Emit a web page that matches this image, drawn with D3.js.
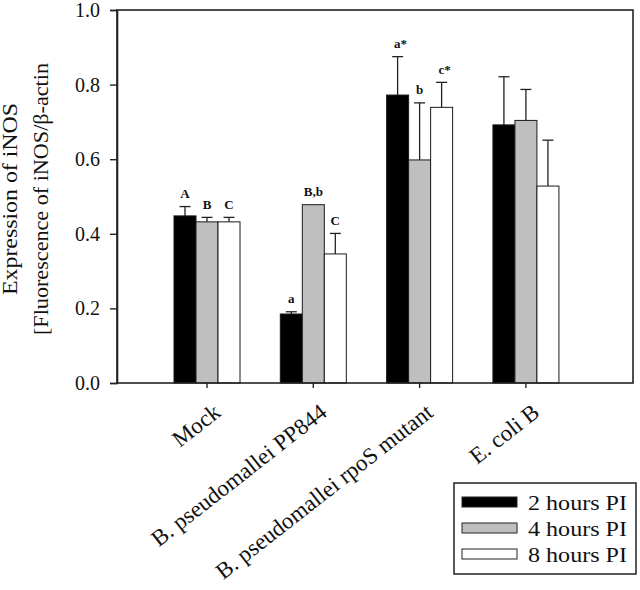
<!DOCTYPE html>
<html>
<head>
<meta charset="utf-8">
<script src="https://cdn.jsdelivr.net/npm/d3@7"></script>
<style>
  html, body { margin: 0; padding: 0; background: #fff; }
  svg { display: block; }
  svg text { font-family: "Liberation Serif", Tinos, "Times New Roman", Times, "Nimbus Roman", "Nimbus Roman No9 L", serif !important; fill: #111; }
</style>
</head>
<body>
<svg id="chart" width="640" height="590"></svg>
<script>
// ---- data ----
const categories = ["Mock", "B. pseudomallei PP844", "B. pseudomallei rpoS mutant", "E. coli B"];
const series = ["2 hours PI", "4 hours PI", "8 hours PI"];
const values2h = [0.448, 0.185, 0.772, 0.692];
const values4h = [0.432, 0.478, 0.598, 0.704];
const values8h = [0.432, 0.346, 0.739, 0.528];
const errTop2h = [0.473, 0.191, 0.875, 0.821];
const errTop4h = [0.444, 0.478, 0.751, 0.787];
const errTop8h = [0.444, 0.401, 0.806, 0.651];
const letters2h = ["A", "a", "a*", ""];
const letters4h = ["B", "B,b", "b", ""];
const letters8h = ["C", "C", "c*", ""];
const yTicks = [0.0, 0.2, 0.4, 0.6, 0.8, 1.0];
const yTitle = ["Expression of iNOS", "[Fluorescence of iNOS/\u03B2-actin"];

const seriesValues = [values2h, values4h, values8h];
const seriesErr = [errTop2h, errTop4h, errTop8h];
const seriesLetters = [letters2h, letters4h, letters8h];
const fills = ["#000000", "#bfbfbf", "#ffffff"];

// ---- layout ----
const pLeft = 117, pRight = 633, pTop = 10, pBottom = 383;
const svg = d3.select("#chart");

const y = d3.scaleLinear().domain([0, 1]).range([pBottom, pTop]);
const x0 = d3.scaleBand().domain(categories).range([pLeft, pRight])
  .paddingInner(0).paddingOuter(0.427).align(0.406);
const bw = x0.bandwidth();
const x1 = d3.scaleBand().domain(series).range([bw / 2 - 33, bw / 2 + 33]).padding(0);

const rows = [];
categories.forEach((c, ci) => {
  series.forEach((s, si) => {
    rows.push({ c, s, si, v: seriesValues[si][ci], e: seriesErr[si][ci], lab: seriesLetters[si][ci] });
  });
});

const g = svg.append("g");

// error bars
const eb = g.selectAll("g.err").data(rows.filter(d => d.e > d.v + 0.001)).enter().append("g");
eb.append("line")
  .attr("x1", d => x0(d.c) + x1(d.s) + x1.bandwidth() / 2)
  .attr("x2", d => x0(d.c) + x1(d.s) + x1.bandwidth() / 2)
  .attr("y1", d => y(d.v)).attr("y2", d => y(d.e))
  .attr("stroke", "#222").attr("stroke-width", 1.3);
eb.append("line")
  .attr("x1", d => x0(d.c) + x1(d.s) + x1.bandwidth() / 2 - 5.5)
  .attr("x2", d => x0(d.c) + x1(d.s) + x1.bandwidth() / 2 + 5.5)
  .attr("y1", d => y(d.e)).attr("y2", d => y(d.e))
  .attr("stroke", "#222").attr("stroke-width", 1.3);

g.selectAll("rect.bar").data(rows).enter().append("rect")
  .attr("x", d => x0(d.c) + x1(d.s))
  .attr("y", d => y(d.v))
  .attr("width", x1.bandwidth())
  .attr("height", d => y(0) - y(d.v))
  .attr("fill", d => fills[d.si])
  .attr("stroke", "#1a1a1a").attr("stroke-width", 1);

// significance letters
g.selectAll("text.lab").data(rows.filter(d => d.lab)).enter().append("text")
  .attr("x", d => x0(d.c) + x1(d.s) + x1.bandwidth() / 2 + (d.lab.endsWith("*") ? 3 : 0))
  .attr("y", d => y(Math.max(d.e, d.v)) - 8.5)
  .attr("text-anchor", "middle")
  .attr("font-size", 13).attr("font-weight", "bold")
  .text(d => d.lab);

// frame
svg.append("rect").attr("x", pLeft).attr("y", pTop)
  .attr("width", pRight - pLeft).attr("height", pBottom - pTop)
  .attr("fill", "none").attr("stroke", "#222").attr("stroke-width", 1.6);

// y axis
const yAxis = svg.append("g").attr("transform", `translate(${pLeft},0)`)
  .call(d3.axisLeft(y).tickValues(yTicks).tickFormat(d3.format(".1f")).tickSize(7).tickPadding(10));
yAxis.attr("font-family", null);
yAxis.select(".domain").attr("stroke", "#222").attr("stroke-width", 1.6);
yAxis.selectAll(".tick line").attr("stroke", "#222").attr("stroke-width", 1.4);
yAxis.selectAll(".tick text").attr("font-size", 20).attr("fill", "#111");

// x axis
const xAxis = svg.append("g").attr("transform", `translate(0,${pBottom})`)
  .call(d3.axisBottom(x0).tickSize(5).tickFormat(""));
xAxis.select(".domain").remove();
xAxis.selectAll(".tick line").attr("stroke", "#222").attr("stroke-width", 1.4);

svg.append("g").selectAll("text.xl").data(categories).enter().append("text")
  .attr("transform", d => `translate(${x0(d) + bw / 2 + 15},${415}) rotate(-38)`)
  .attr("text-anchor", "end")
  .attr("font-size", 23)
  .text(d => d);

// y title
const titleLines = [
  { t: yTitle[0], x: 17, len: 192 },
  { t: yTitle[1], x: 48, len: 272 }
];
svg.append("g").selectAll("text.yt").data(titleLines).enter().append("text")
  .attr("transform", d => `translate(${d.x},199) rotate(-90)`)
  .attr("text-anchor", "middle")
  .attr("font-size", 20)
  .attr("textLength", d => d.len)
  .attr("lengthAdjust", "spacingAndGlyphs")
  .text(d => d.t);

// legend
const lg = svg.append("g");
lg.append("rect").attr("x", 454).attr("y", 483).attr("width", 182).attr("height", 91)
  .attr("fill", "#fff").attr("stroke", "#222").attr("stroke-width", 1.5);
const legendBase = [510, 536, 562];
const li = lg.selectAll("g.li").data(series).enter().append("g");
li.append("rect")
  .attr("x", 462).attr("y", (d, i) => legendBase[i] - 13)
  .attr("width", 55).attr("height", 10)
  .attr("fill", (d, i) => fills[i]).attr("stroke", "#222").attr("stroke-width", 1);
li.append("text")
  .attr("x", 528).attr("y", (d, i) => legendBase[i])
  .attr("font-size", 21)
  .attr("textLength", 99).attr("lengthAdjust", "spacingAndGlyphs")
  .text(d => d);
</script>
</body>
</html>
